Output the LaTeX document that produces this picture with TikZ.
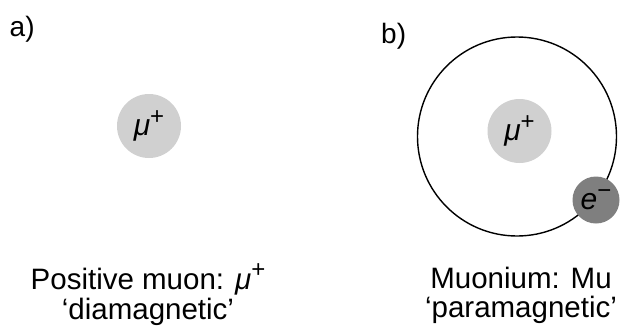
\documentclass[tikz,border=0pt]{standalone}
\usepackage{fontspec}
\setmainfont{Liberation Sans}
\definecolor{muongray}{HTML}{D0D0D0}
\definecolor{elecgray}{HTML}{7F7F7F}
\newcommand\mysup[1]{\raisebox{0.38em}{\fontsize{24}{24}\selectfont #1}}
\begin{document}
\begin{tikzpicture}[x=1pt,y=-1pt,
  txt/.style={font=\fontsize{29.5}{33}\selectfont, inner sep=0pt, anchor=base},
  lbl/.style={font=\fontsize{28}{30}\selectfont, inner sep=0pt, anchor=base west},
  muon/.style={circle, fill=muongray, minimum size=64pt, inner sep=0pt, font=\fontsize{30}{33}\selectfont},
  elec/.style={circle, fill=elecgray, minimum size=47pt, inner sep=0pt, font=\fontsize{30}{33}\selectfont},
  orbit/.style={draw=black, line width=1.4pt}]
\useasboundingbox (0,0) rectangle (621,325);
\node[lbl] (la) at (9.5,36.5) {a)};
\node[lbl] (lb) at (381,43) {b)};
\node[muon] (m1) at (149,126) {\textit{μ}\mysup{+}};
\node[circle, orbit, minimum size=199pt, inner sep=0pt] (orb) at (517,136.5) {};
\node[muon] (m2) at (519.5,131) {\textit{μ}\mysup{+}};
\node[elec] (e) at (596,200) {\textit{e}\mysup{−}};
\node[txt] (t1a) at (148,289) {Positive muon: \textit{μ}\mysup{+}};
\node[txt] (t1b) at (148,319) {‘diamagnetic’};
\node[txt] (t2a) at (521,288) {Muonium: Mu};
\node[txt] (t2b) at (521,317.5) {‘paramagnetic’};
\end{tikzpicture}
\end{document}
